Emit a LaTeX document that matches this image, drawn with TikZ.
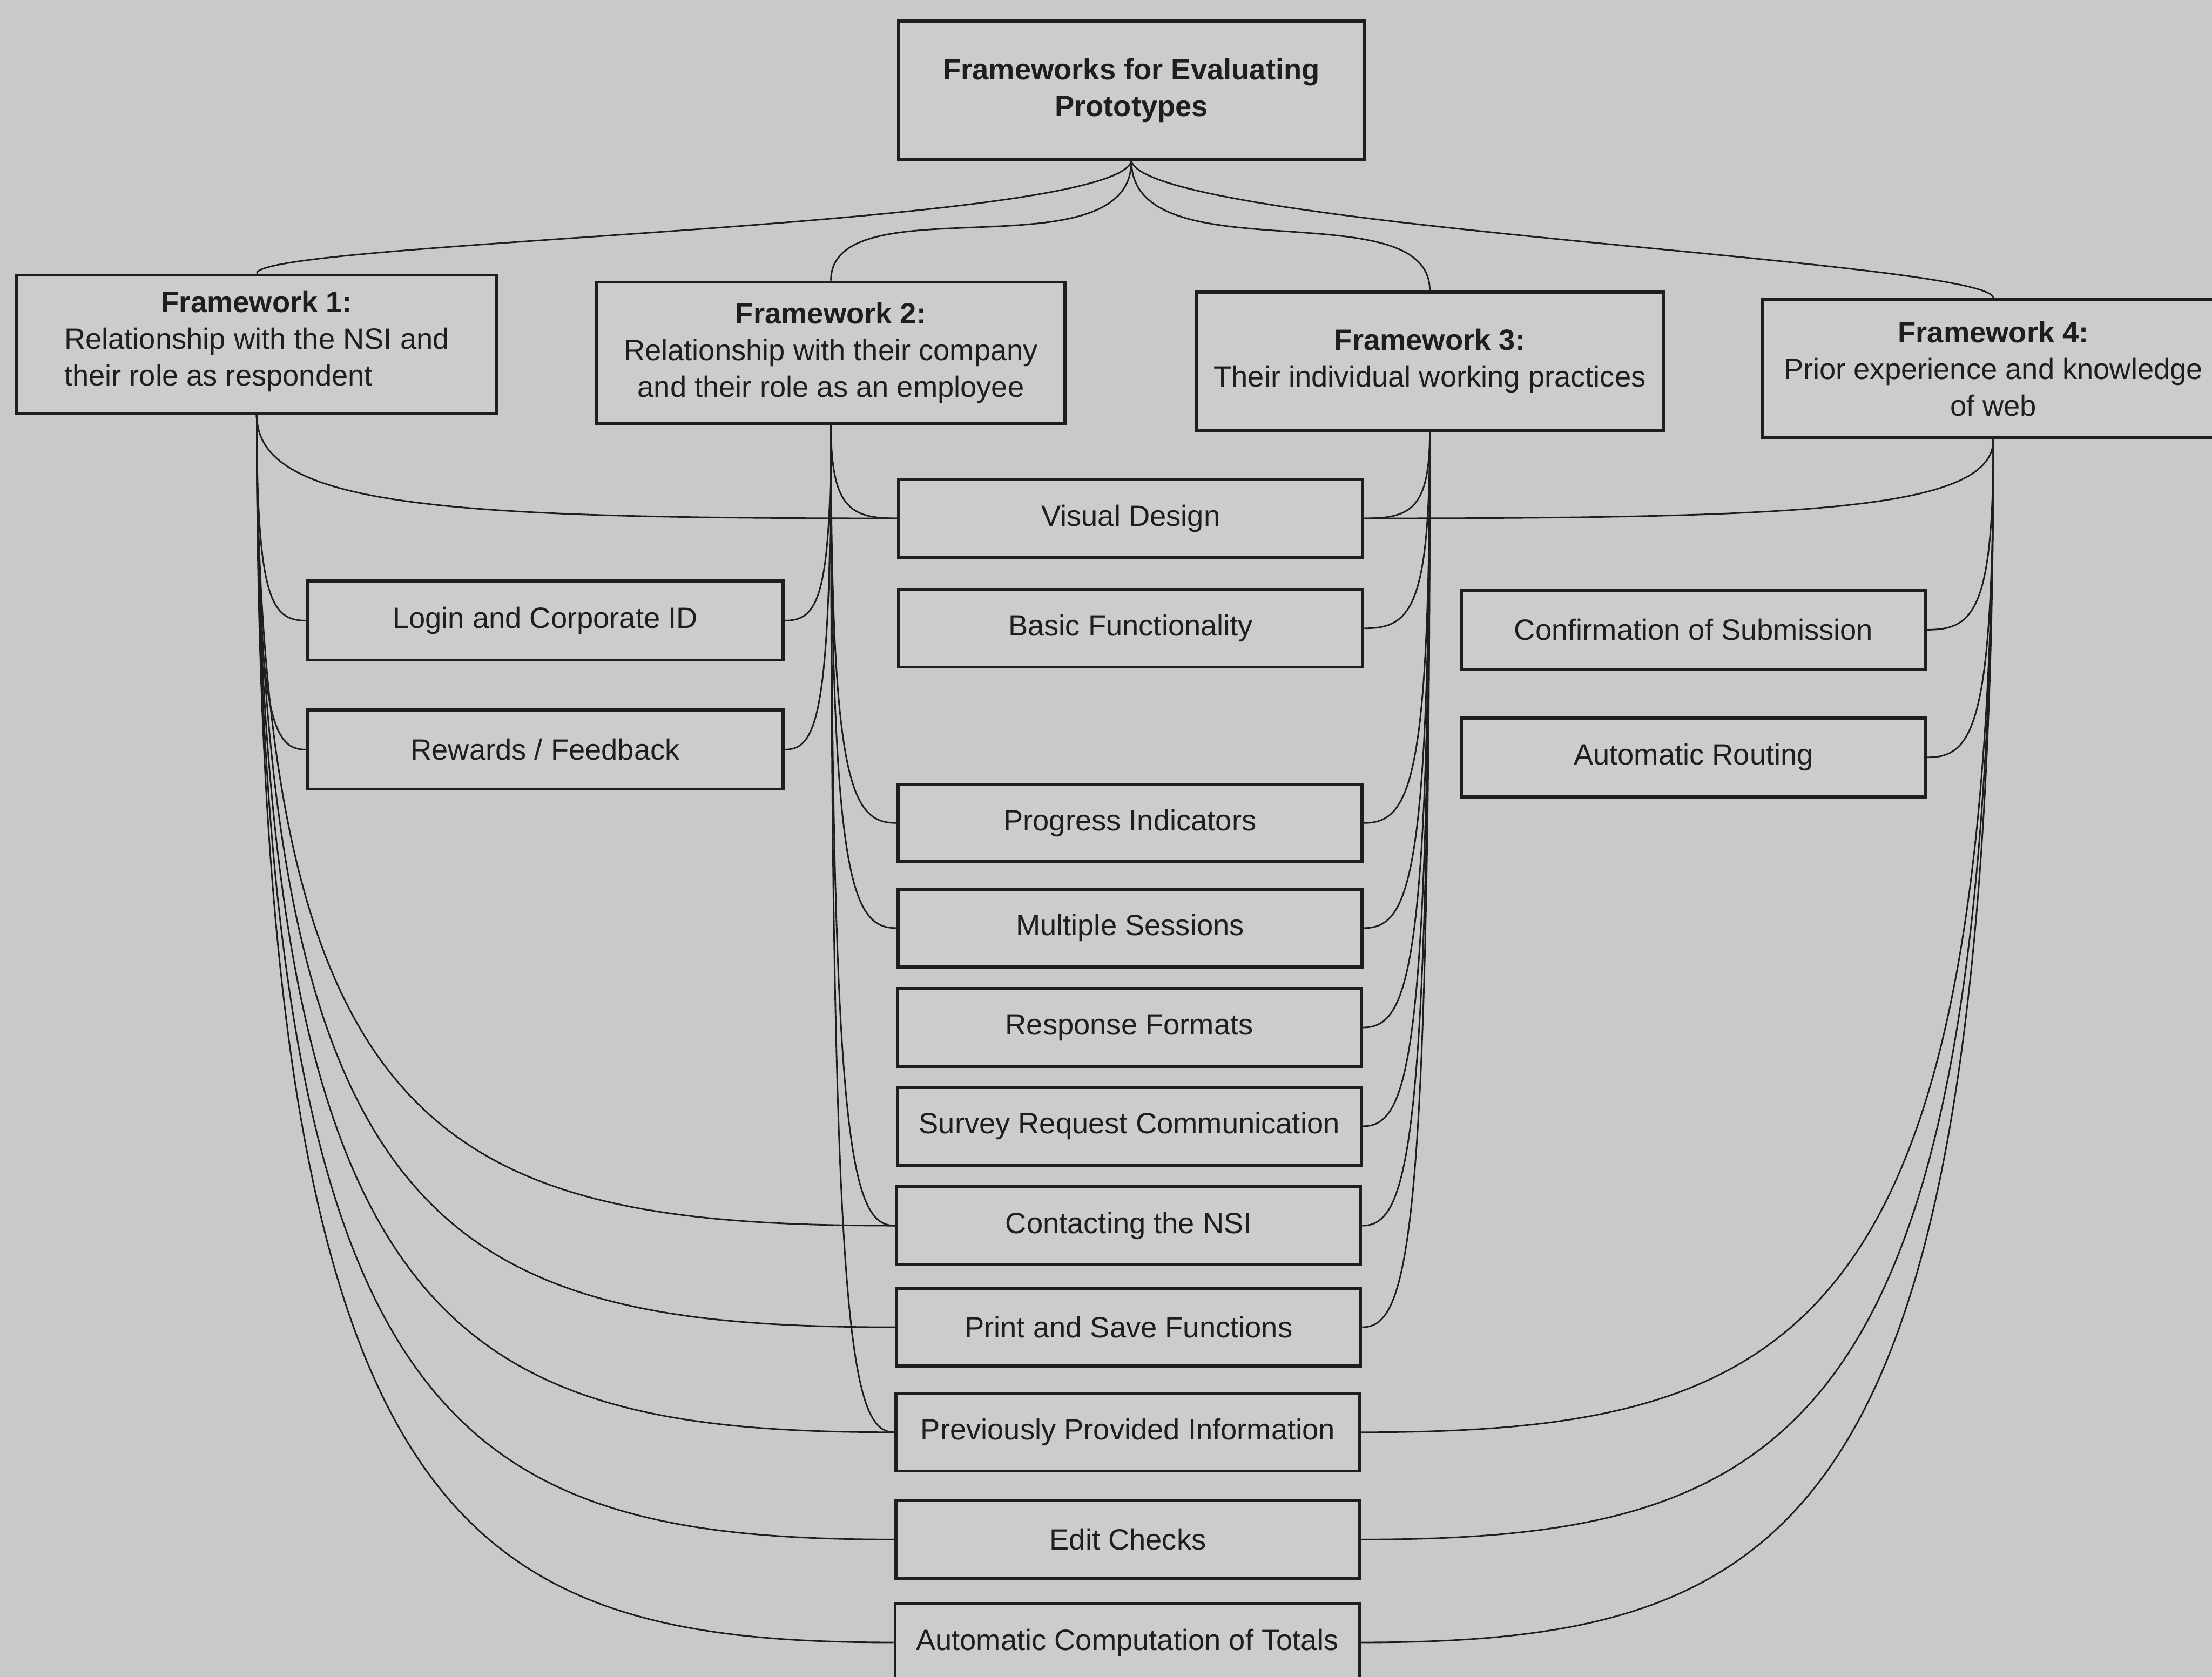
\documentclass[tikz,border=0pt]{standalone}
\usepackage{fontspec}
\setmainfont{Liberation Sans}
\usetikzlibrary{calc}
\definecolor{paper}{RGB}{201,201,201}
\definecolor{boxfill}{RGB}{204,204,204}
\definecolor{ink}{RGB}{30,30,30}

% curved branch: runs straight down from a framework, then bends into a box side
\newcommand\branch[2]{%
  \draw[conn] (#1.south) .. controls ($(#1.south)!0.9!(#1.south |- #2)$)
    and ($(#1.south |- #2)!0.3!(#2)$) .. (#2);}

\begin{document}
\begin{tikzpicture}[x=1pt,y=-1pt,
  box/.style={draw=ink, line width=2.2pt, fill=boxfill, inner sep=0pt,
    align=center, text=ink, font=\fontsize{20.8}{26}\selectfont},
  topbox/.style={box, minimum width=330pt, minimum height=98pt},
  fwbox/.style={box, minimum width=332pt, minimum height=98pt},
  feat/.style={box, minimum width=329pt, minimum height=55pt},
  side/.style={box, minimum width=335pt, minimum height=56pt},
  conn/.style={draw=ink, line width=1.1pt}]

\fill[paper] (0,0) rectangle (1568,1189);
\useasboundingbox (0,0) rectangle (1568,1189);

% root
\node[topbox] (top) at (802,64) {\textbf{Frameworks for Evaluating}\\\textbf{Prototypes}};

% the four frameworks
\node[fwbox, minimum width=340pt] (F1) at (182,244)
  {\textbf{Framework 1:}\\\begin{tabular}[t]{@{}l@{}}Relationship with the NSI and\\their role as respondent\end{tabular}};
\node[fwbox, minimum height=100pt] (F2) at (589,250)
  {\textbf{Framework 2:}\\Relationship with their company\\and their role as an employee};
\node[fwbox, minimum width=331pt] (F3) at (1013.5,256)
  {\textbf{Framework 3:}\\Their individual working practices};
\node[fwbox, minimum width=328pt] (F4) at (1413,261.5)
  {\textbf{Framework 4:}\\Prior experience and knowledge\\of web};

% central column of prototype features
\node[feat] (vd)   at (801.5,367.5)  {Visual Design};
\node[feat] (bf)   at (801.5,445.5)  {Basic Functionality};
\node[feat] (pi)   at (801,583.5)    {Progress Indicators};
\node[feat] (ms)   at (801,658)      {Multiple Sessions};
\node[feat] (rf)   at (800.5,728.5)  {Response Formats};
\node[feat] (src)  at (800.5,798.5)  {Survey Request Communication};
\node[feat] (cnsi) at (800,869)      {Contacting the NSI};
\node[feat] (psf)  at (800,941)      {Print and Save Functions};
\node[feat] (ppi)  at (799.5,1015.5) {Previously Provided Information};
\node[feat] (ec)   at (799.5,1091.5) {Edit Checks};
\node[feat] (act)  at (799,1164.5)   {Automatic Computation of Totals};

% left and right columns
\node[side, minimum width=337pt] (login)  at (386.5,440)   {Login and Corporate ID};
\node[side, minimum width=337pt] (reward) at (386.5,531.5) {Rewards / Feedback};
\node[side, minimum width=329pt] (conf)   at (1200.5,446.5) {Confirmation of Submission};
\node[side, minimum width=329pt] (ar)     at (1200.5,537)   {Automatic Routing};

% root to frameworks
\draw[conn] (top.south) .. controls +(-11,47) and +(0,-23) .. (F1.north);
\draw[conn] (top.south) .. controls +(0,82) and +(0,-70) .. (F2.north);
\draw[conn] (top.south) .. controls +(0,82) and +(0,-72) .. (F3.north);
\draw[conn] (top.south) .. controls +(11,47) and +(0,-27) .. (F4.north);

% Framework 1
\branch{F1}{vd.west}
\branch{F1}{login.west}
\branch{F1}{reward.west}
\branch{F1}{cnsi.west}
\branch{F1}{psf.west}
\branch{F1}{ppi.west}
\branch{F1}{ec.west}
\branch{F1}{act.west}

% Framework 2
\branch{F2}{vd.west}
\branch{F2}{login.east}
\branch{F2}{reward.east}
\branch{F2}{pi.west}
\branch{F2}{ms.west}
\branch{F2}{cnsi.west}
\branch{F2}{ppi.west}

% Framework 3
\branch{F3}{vd.east}
\branch{F3}{bf.east}
\branch{F3}{pi.east}
\branch{F3}{ms.east}
\branch{F3}{rf.east}
\branch{F3}{src.east}
\branch{F3}{cnsi.east}
\branch{F3}{psf.east}

% Framework 4
\branch{F4}{vd.east}
\branch{F4}{conf.east}
\branch{F4}{ar.east}
\branch{F4}{ppi.east}
\branch{F4}{ec.east}
\branch{F4}{act.east}
\end{tikzpicture}
\end{document}
